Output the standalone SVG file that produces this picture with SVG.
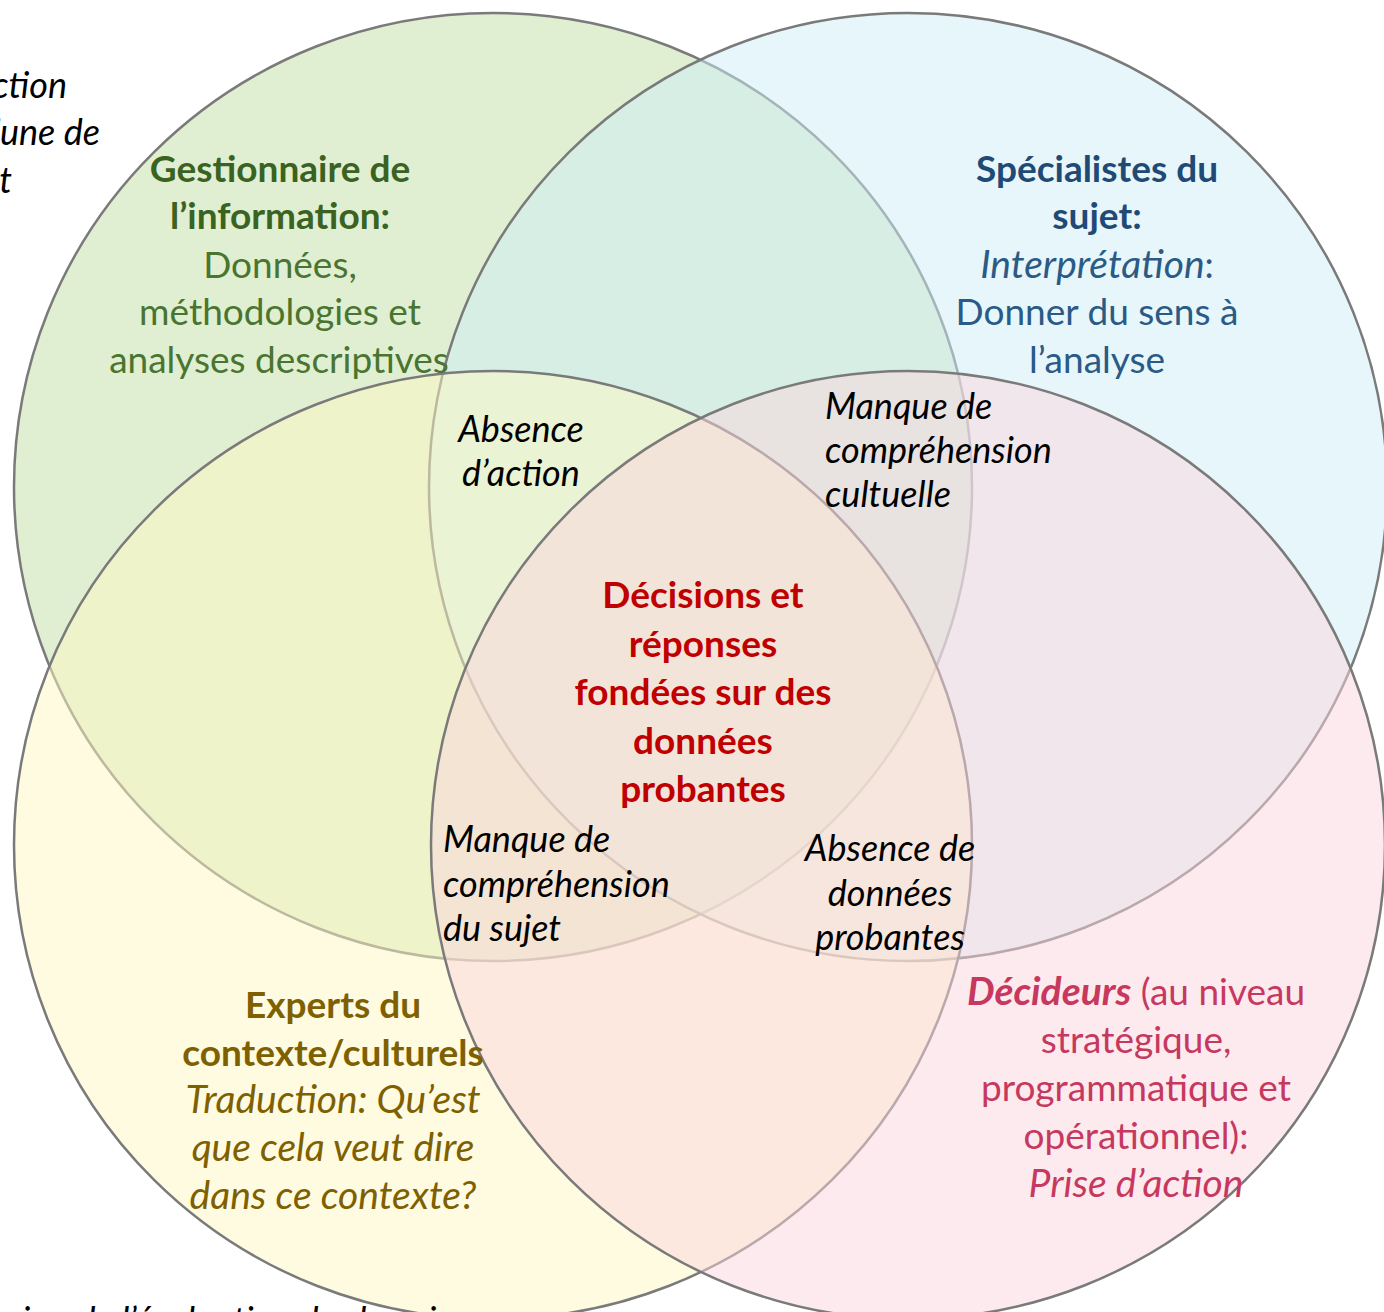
<svg xmlns="http://www.w3.org/2000/svg" width="1384" height="1312" viewBox="0 0 1384 1312">
<style>
.c{stroke:#7a7a7a;stroke-width:2.5;fill-opacity:0.5}
text{font-family:Lato,"Open Sans","Liberation Sans",sans-serif;font-size:37px}
.b{font-weight:bold}
.i{font-style:italic;font-size:39px}
.m{text-anchor:middle}
.k{fill:#000;font-style:italic;font-size:36px}
.g{fill:#4a7530}.gb{fill:#3a6220}
.bl{fill:#2a5a85}.blb{fill:#1f4a75}
.r{fill:#c00000;font-weight:bold}
.y{fill:#7f6000}
.p{fill:#c7385f}
</style>
<rect width="1384" height="1312" fill="#fff"/>
<g id="circles">
<ellipse id="c-green" class="c" cx="493" cy="487" rx="479" ry="474" fill="#c1dfa5"/>
<ellipse id="c-blue" class="c" cx="908" cy="487" rx="479" ry="474" fill="#cdedf5"/>
<ellipse id="c-yellow" class="c" cx="493" cy="845" rx="479" ry="474" fill="#fdf7c1"/>
<ellipse id="c-pink" class="c" cx="908" cy="845" rx="477" ry="474" fill="#f9d5dd" fill-opacity="0.55"/>
</g>
<g id="cut-text">
<text class="k" x="67" y="98" text-anchor="end">ction</text>
<text class="k" x="100" y="145" text-anchor="end">’une de</text>
<text class="k" x="12" y="193" text-anchor="end">t</text>
<text class="k" x="22" y="1333" font-size="33">ion de l’évaluation des besoins</text>
</g>
<g id="node-green">
<text class="m b gb" x="280" y="182">Gestionnaire de</text>
<text class="m b gb" x="280" y="229">l’information:</text>
<text class="m g" x="280" y="278">Données,</text>
<text class="m g" x="280" y="325">méthodologies et</text>
<text class="m g" x="279" y="373">analyses descriptives</text>
</g>
<g id="node-blue">
<text class="m b blb" x="1097" y="182">Spécialistes du</text>
<text class="m b blb" x="1097" y="229">sujet:</text>
<text class="m bl" x="1097" y="278"><tspan class="i">Interprétation</tspan>:</text>
<text class="m bl" x="1097" y="325">Donner du sens à</text>
<text class="m bl" x="1097" y="373">l’analyse</text>
</g>
<g id="node-center">
<text class="m r" x="703" y="608">Décisions et</text>
<text class="m r" x="703" y="657">réponses</text>
<text class="m r" x="703" y="705">fondées sur des</text>
<text class="m r" x="703" y="754">données</text>
<text class="m r" x="703" y="802">probantes</text>
</g>
<g id="node-yellow">
<text class="m b y" x="333" y="1018">Experts du</text>
<text class="m b y" x="333" y="1066">contexte/culturels</text>
<text class="m i y" x="333" y="1113">Traduction: Qu’est</text>
<text class="m i y" x="333" y="1161">que cela veut dire</text>
<text class="m i y" x="333" y="1209">dans ce contexte?</text>
</g>
<g id="node-pink">
<text class="m p" x="1136" y="1005"><tspan class="b i" font-size="37">Décideurs</tspan> (au niveau</text>
<text class="m p" x="1136" y="1053">stratégique,</text>
<text class="m p" x="1136" y="1101">programmatique et</text>
<text class="m p" x="1136" y="1149">opérationnel):</text>
<text class="m p i" x="1136" y="1197">Prise d’action</text>
</g>
<g id="overlap-labels">
<text class="k m" x="521" y="442">Absence</text>
<text class="k m" x="521" y="486">d’action</text>
<text class="k" x="825" y="419">Manque de</text>
<text class="k" x="825" y="463">compréhension</text>
<text class="k" x="825" y="507">cultuelle</text>
<text class="k" x="443" y="852">Manque de</text>
<text class="k" x="443" y="897">compréhension</text>
<text class="k" x="443" y="941">du sujet</text>
<text class="k m" x="890" y="861">Absence de</text>
<text class="k m" x="890" y="906">données</text>
<text class="k m" x="890" y="950">probantes</text>
</g>
</svg>
